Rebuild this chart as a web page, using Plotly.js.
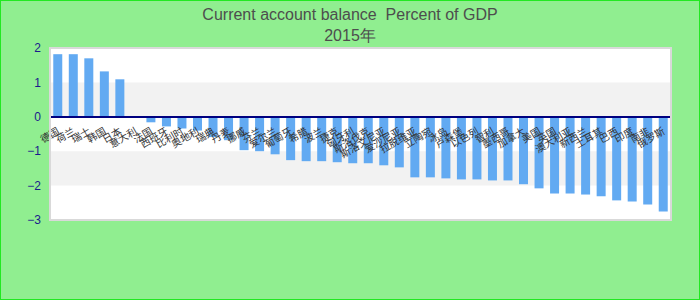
<!DOCTYPE html>
<html>
<head>
<meta charset="utf-8">
<script src="https://cdn.plot.ly/plotly-3.0.1.min.js"></script>
<style>
html,body{margin:0;padding:0;background:#90EE90;}
#chart{width:698px;height:298px;border:1px solid #22e822;}
</style>
</head>
<body>
<div id="chart"></div>
<script>
// Category labels (Chinese names; rendered as missing glyphs in the reference)
const categories = ["德国","荷兰","瑞士","韩国","日本","意大利","法国","西班牙","比利时","奥地利",
  "瑞典","丹麦","挪威","芬兰","爱尔兰","葡萄牙","希腊","波兰","捷克","匈牙利",
  "斯洛伐克","斯洛文尼亚","爱沙尼亚","拉脱维亚","立陶宛","冰岛","卢森堡","以色列","智利","墨西哥",
  "加拿大","美国","英国","澳大利亚","新西兰","土耳其","巴西","印度","南非","俄罗斯"];
// Current account balance, percent of GDP, 2015
const values = [1.82, 1.82, 1.70, 1.32, 1.09, 0, -0.16, -0.28, -0.34, -0.40,
  -0.59, -0.68, -0.97, -1.00, -1.09, -1.26, -1.29, -1.29, -1.32, -1.35,
  -1.35, -1.41, -1.47, -1.76, -1.76, -1.79, -1.82, -1.82, -1.85, -1.85,
  -1.96, -2.08, -2.23, -2.23, -2.26, -2.31, -2.43, -2.46, -2.55, -2.75];
const yTicks = [-3, -2, -1, 0, 1, 2];
const bands = [[0, 1], [-2, -1]];
const yRange = [-3, 2];

const trace = {
  type: 'bar', x: categories, y: values,
  marker: {color: '#62AAF2'}, hoverinfo: 'x+y'
};
const shapes = bands.map(b => ({
  type: 'rect', xref: 'paper', yref: 'y', x0: 0, x1: 1, y0: b[0], y1: b[1],
  fillcolor: '#F2F2F2', line: {width: 0}, layer: 'below'
}));
shapes.push({type: 'rect', xref: 'paper', yref: 'paper', x0: 0, x1: 1, y0: 0, y1: 1,
  line: {color: '#D9D9D9', width: 2}, fillcolor: 'rgba(0,0,0,0)', layer: 'above'});

const layout = {
  width: 698, height: 298,
  paper_bgcolor: '#90EE90', plot_bgcolor: '#FFFFFF',
  margin: {l: 49, r: 28, t: 47, b: 79},
  title: {text: 'Current account balance  Percent of GDP<br>2015年',
    font: {family: 'Liberation Sans, Arial, sans-serif', size: 16, color: '#4D4D4D'},
    x: 0.5, xanchor: 'center', y: 0.935, yanchor: 'top'},
  bargap: 0.42,
  showlegend: false,
  xaxis: {
    anchor: 'free', position: (0 - yRange[0]) / (yRange[1] - yRange[0]),
    showline: true, linecolor: '#000080', linewidth: 2,
    showgrid: false, zeroline: false, ticks: '',
    tickangle: -30, automargin: false, ticklabelstandoff: 4,
    tickfont: {family: 'Noto Sans CJK SC, sans-serif', size: 10, color: '#333333'}
  },
  yaxis: {
    range: yRange, tickvals: yTicks, showgrid: false, zeroline: false,
    showline: false, ticks: '', automargin: false, ticklabelstandoff: 8,
    tickfont: {family: 'Liberation Sans, Arial, sans-serif', size: 12, color: '#1A1A8C'}
  },
  shapes: shapes
};
Plotly.newPlot('chart', [trace], layout, {displayModeBar: false, staticPlot: true});
</script>
</body>
</html>
